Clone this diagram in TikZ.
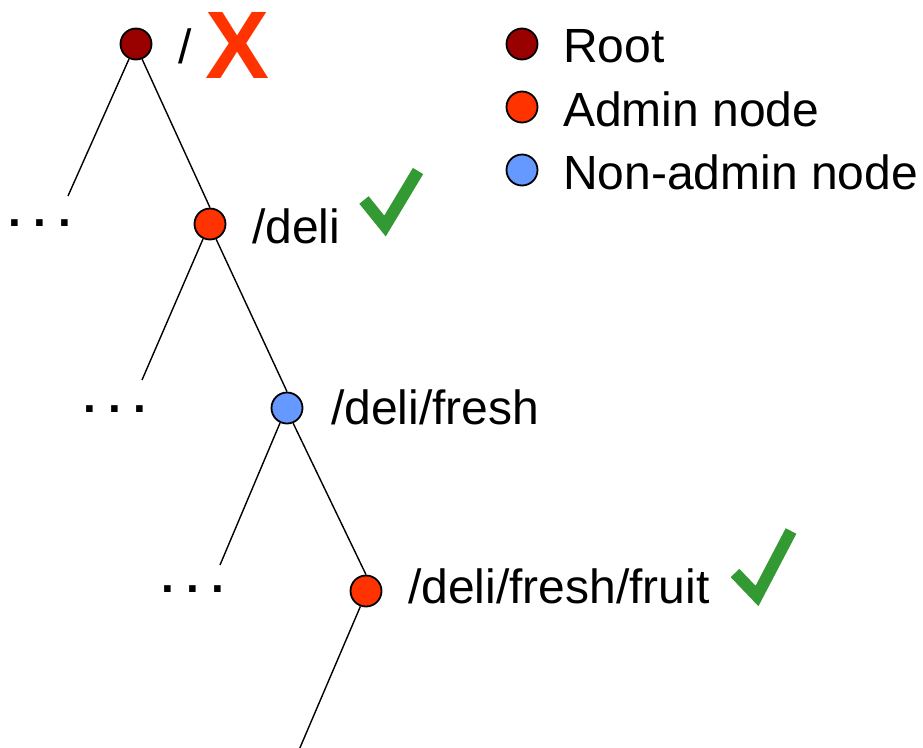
\documentclass[tikz,border=0pt]{standalone}
\usepackage{fontspec}
\setmainfont{Liberation Sans}
\definecolor{rootred}{HTML}{990000}
\definecolor{adminred}{HTML}{FF3300}
\definecolor{plainblue}{HTML}{6699FF}
\definecolor{okgreen}{HTML}{339933}
\begin{document}
\begin{tikzpicture}[x=1pt,y=-1pt,
  vtx/.style={circle,draw=black,line width=1.8pt,minimum size=31pt,inner sep=0pt},
  rootvtx/.style={vtx,fill=rootred},
  adminvtx/.style={vtx,fill=adminred},
  plainvtx/.style={vtx,fill=plainblue},
  lbl/.style={anchor=west,inner sep=0pt,font=\fontsize{48}{52}\selectfont},
  dots/.style={inner sep=0pt,font=\fontsize{46}{50}\selectfont\bfseries},
  edge/.style={line width=1.4pt},
  tick/.style={draw=okgreen,line width=12pt,line join=miter}
]
\useasboundingbox (0,0) rectangle (923,747);

% tree vertices
\node[rootvtx]  (root)  at (136,44)  {};
\node[adminvtx] (deli)  at (210,224) {};
\node[plainvtx] (fresh) at (287,408) {};
\node[adminvtx] (fruit) at (366,591) {};

% loose branch ends
\coordinate (rootL)  at (68,196);
\coordinate (deliL)  at (142,380);
\coordinate (freshL) at (220,565);
\coordinate (fruitD) at (299,750);

% branches
\draw[edge] (root.-115) -- (rootL);
\draw[edge] (root.-68) -- (deli.north);
\draw[edge] (deli.-115) -- (deliL);
\draw[edge] (deli.-68) -- (fresh.north);
\draw[edge] (fresh.-115) -- (freshL);
\draw[edge] (fresh.-68) -- (fruit.north);
\draw[edge] (fruit.-110) -- (fruitD);

% ellipses for elided children
\node[dots] (d1) at (40,223) {.\hspace{12pt}.\hspace{12pt}.};
\node[dots] (d2) at (115,409) {.\hspace{12pt}.\hspace{12pt}.};
\node[dots] (d3) at (193,589) {.\hspace{12pt}.\hspace{12pt}.};

% path labels
\node[lbl] (l0) at (178,46)  {/};
\node[lbl] (l1) at (252,226) {/deli};
\node[lbl] (l2) at (331,407) {/deli/fresh};
\node[lbl] (l3) at (408,586) {/deli/fresh/fruit};

% access marks
\node[inner sep=0pt,text=adminred,font=\fontsize{96}{100}\selectfont\bfseries] (cross) at (238,45) {X};
\draw[tick] (364,200) -- (385,226) -- (418,171);
\draw[tick] (735,573) -- (757,596) -- (791,531);

% legend
\node[rootvtx]  (k1) at (522,44)  {};
\node[adminvtx] (k2) at (522,107) {};
\node[plainvtx] (k3) at (522,170) {};
\node[lbl] (t1) at (563,46)  {Root};
\node[lbl] (t2) at (563,109) {Admin node};
\node[lbl] (t3) at (563,172) {Non-admin node};
\end{tikzpicture}
\end{document}
